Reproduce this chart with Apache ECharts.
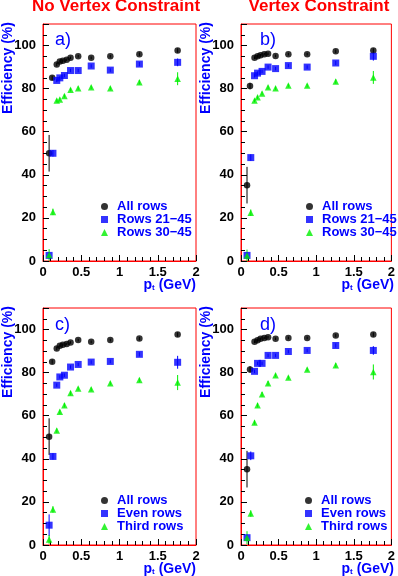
<!DOCTYPE html>
<html>
<head>
<meta charset="utf-8">
<script src="https://cdn.jsdelivr.net/npm/echarts@6/dist/echarts.min.js"></script>
<style>
  html, body { margin: 0; padding: 0; background: #fff; }
  #chart { width: 398px; height: 576px; }
</style>
</head>
<body>
<div id="chart"></div>
<script>
// pt bins (GeV)
const ptAll = [0.08, 0.12, 0.18, 0.22, 0.26, 0.31, 0.36, 0.46, 0.63, 0.88, 1.26, 1.76];
const ptRows = [0.08, 0.13, 0.18, 0.22, 0.28, 0.36, 0.46, 0.63, 0.88, 1.26, 1.76];

// a) no vertex constraint
const effAllA = [50, 85, 91.2, 92.6, 93, 93.4, 94.3, 95, 94.3, 95, 96, 97.7];
const errAllA = [8.5, 1, 0.8, 0.6, 0.6, 0.6, 0.6, 0.6, 0.6, 0.6, 0.8, 1];
const eff2145A = [2.6, 50, 83.8, 85, 86.1, 88.4, 88.4, 90.5, 88.6, 91.4, 92.2];
const err2145A = [1, 1.5, 0.8, 0.8, 0.8, 0.8, 0.8, 0.8, 0.8, 1, 1.8];
const eff3045A = [2.8, 22.8, 74.5, 75, 76.6, 79.5, 80.2, 80.6, 80.2, 83, 84.6];
const err3045A = [2.7, 1.5, 0.8, 0.8, 0.8, 0.8, 0.8, 0.8, 0.8, 1, 3];

// b) vertex constraint
const effAllB = [35.2, 81.2, 94.3, 95, 95.5, 96, 96.2, 95.2, 96, 96, 97.3, 97.7];
const errAllB = [8.5, 1.5, 0.6, 0.6, 0.6, 0.6, 0.6, 0.6, 0.6, 0.6, 0.8, 1];
const eff2145B = [2.6, 48, 86, 87.2, 88, 90, 89.3, 90.7, 90, 91.9, 95];
const err2145B = [1, 1.5, 0.8, 0.8, 0.8, 0.8, 0.8, 0.8, 0.8, 1, 2];
const eff3045B = [2.6, 22.4, 74.5, 76, 77.8, 80.6, 80.2, 81.4, 81.4, 83.3, 85.2];
const err3045B = [2.7, 1.5, 0.8, 0.8, 0.8, 0.8, 0.8, 0.8, 0.8, 1, 3];

// c) no vertex constraint, even / third rows
const effAllC = [50.3, 85.1, 91.2, 92.5, 93, 93.3, 94, 95.1, 94.3, 95.1, 95.8, 97.7];
const errAllC = [8.5, 1, 0.8, 0.6, 0.6, 0.6, 0.6, 0.6, 0.6, 0.6, 0.8, 1];
const effEvenC = [9.2, 41.1, 74.2, 78, 78.8, 82.6, 83.8, 84.9, 85.2, 88.5, 84.8];
const errEvenC = [5, 1.5, 0.8, 0.8, 0.8, 0.8, 0.8, 0.8, 0.8, 1, 3];
const effThirdC = [2.6, 16.5, 53.1, 61.8, 64.9, 70.5, 72.6, 72.3, 75.1, 76.6, 75.4];
const errThirdC = [2, 1.5, 1, 1, 1, 1, 0.8, 0.8, 0.8, 1, 3.5];

// d) vertex constraint, even / third rows
const effAllD = [35.2, 81.5, 94.3, 95, 95.7, 96.1, 96.4, 95.7, 96.1, 96.1, 97.2, 97.7];
const errAllD = [8.5, 1.5, 0.6, 0.6, 0.6, 0.6, 0.6, 0.6, 0.6, 0.6, 0.8, 1];
const effEvenD = [3.4, 41.4, 80.6, 84.3, 84.3, 88, 88, 89.8, 90.3, 92.6, 90.3];
const errEvenD = [1, 2, 0.8, 0.8, 0.8, 0.8, 0.8, 0.8, 0.8, 1, 2];
const effThirdD = [3.4, 14.6, 56.9, 64.9, 70, 75.1, 78.8, 77.7, 81.5, 83.4, 80.3];
const errThirdD = [3, 1.5, 1, 1, 1, 1, 0.8, 0.8, 0.8, 1, 3.5];

const yTicks = [0, 20, 40, 60, 80, 100];
const xTicks = [0, 0.5, 1, 1.5, 2];

const BLACK = '#000000', BLUE = '#0000ff', GREEN = '#00f000', RED = '#ff0000';
const FONT = 'Liberation Sans';

let chart = echarts.init(document.getElementById('chart'));

let grids = [
    { left: 43, top: 24, width: 153, height: 237 },
    { left: 241, top: 24, width: 153, height: 237 },
    { left: 43, top: 308, width: 153, height: 237 },
    { left: 241, top: 308, width: 153, height: 237 }
].map(g => Object.assign(g, { show: true, borderColor: RED, borderWidth: 1, backgroundColor: 'transparent' }));

function xAxisFor(i) {
    return {
        gridIndex: i, type: 'value', min: 0, max: 2, interval: 0.5,
        axisLine: { lineStyle: { color: RED, width: 1 } },
        axisTick: { inside: true, length: 6, lineStyle: { color: BLACK } },
        minorTick: { show: true, splitNumber: 5, length: 4, lineStyle: { color: BLACK } },
        splitLine: { show: false },
        axisLabel: {
            color: BLACK, fontFamily: FONT, fontWeight: 'bold', fontSize: 13, margin: 5,
            formatter: v => xTicks.indexOf(v) >= 0 ? String(v) : ''
        }
    };
}

function yAxisFor(i) {
    return {
        gridIndex: i, type: 'value', min: 0, max: 110, interval: 20,
        axisLine: { lineStyle: { color: RED, width: 1 } },
        axisTick: { inside: true, length: 6, lineStyle: { color: BLACK } },
        minorTick: { show: true, splitNumber: 4, length: 4, lineStyle: { color: BLACK } },
        splitLine: { show: false },
        axisLabel: {
            color: BLACK, fontFamily: FONT, fontWeight: 'bold', fontSize: 13, margin: 7,
            formatter: v => yTicks.indexOf(v) >= 0 ? String(v) : ''
        }
    };
}

function pts(xs, ys) {
    return xs.map((x, k) => [x, ys[k]]);
}

function scatter(name, i, xs, ys, symbol, color) {
    return {
        name: name, type: 'scatter', xAxisIndex: i, yAxisIndex: i,
        symbol: symbol, symbolSize: symbol === 'rect' ? 7 : 6.5,
        itemStyle: { color: color },
        data: pts(xs, ys), z: 3
    };
}

function errBars(i, xs, ys, es, color) {
    return {
        name: 'err', type: 'custom', xAxisIndex: i, yAxisIndex: i, z: 2,
        encode: { x: 0, y: [1, 2] },
        data: xs.map((x, k) => [x, ys[k] - es[k], ys[k] + es[k]]),
        renderItem: function (params, api) {
            let p1 = api.coord([api.value(0), api.value(1)]);
            let p2 = api.coord([api.value(0), api.value(2)]);
            return {
                type: 'line',
                shape: { x1: p1[0], y1: p1[1], x2: p2[0], y2: p2[1] },
                style: { stroke: color, lineWidth: 1 }
            };
        }
    };
}

let series = [
    errBars(0, ptAll, effAllA, errAllA, BLACK),
    errBars(0, ptRows, eff2145A, err2145A, BLUE),
    errBars(0, ptRows, eff3045A, err3045A, GREEN),
    scatter('All rows', 0, ptAll, effAllA, 'circle', BLACK),
    scatter('Rows 21\u221245', 0, ptRows, eff2145A, 'rect', BLUE),
    scatter('Rows 30\u221245', 0, ptRows, eff3045A, 'triangle', GREEN),

    errBars(1, ptAll, effAllB, errAllB, BLACK),
    errBars(1, ptRows, eff2145B, err2145B, BLUE),
    errBars(1, ptRows, eff3045B, err3045B, GREEN),
    scatter('All rows', 1, ptAll, effAllB, 'circle', BLACK),
    scatter('Rows 21\u221245', 1, ptRows, eff2145B, 'rect', BLUE),
    scatter('Rows 30\u221245', 1, ptRows, eff3045B, 'triangle', GREEN),

    errBars(2, ptAll, effAllC, errAllC, BLACK),
    errBars(2, ptRows, effEvenC, errEvenC, BLUE),
    errBars(2, ptRows, effThirdC, errThirdC, GREEN),
    scatter('All rows', 2, ptAll, effAllC, 'circle', BLACK),
    scatter('Even rows', 2, ptRows, effEvenC, 'rect', BLUE),
    scatter('Third rows', 2, ptRows, effThirdC, 'triangle', GREEN),

    errBars(3, ptAll, effAllD, errAllD, BLACK),
    errBars(3, ptRows, effEvenD, errEvenD, BLUE),
    errBars(3, ptRows, effThirdD, errThirdD, GREEN),
    scatter('All rows', 3, ptAll, effAllD, 'circle', BLACK),
    scatter('Even rows', 3, ptRows, effEvenD, 'rect', BLUE),
    scatter('Third rows', 3, ptRows, effThirdD, 'triangle', GREEN)
];

function legendAt(left, top, names) {
    return {
        left: left, top: top, orient: 'vertical', itemGap: 0,
        itemWidth: 7, itemHeight: 7, selectedMode: false,
        data: names,
        textStyle: { color: BLUE, fontFamily: FONT, fontWeight: 'bold', fontSize: 13, lineHeight: 11.5, padding: [0, 0, 0, 4] }
    };
}

const legendTop = ['All rows', 'Rows 21\u221245', 'Rows 30\u221245'];
const legendBottom = ['All rows', 'Even rows', 'Third rows'];

function txt(x, y, text, opts) {
    return {
        type: 'text', x: x, y: y, rotation: opts.rotation || 0,
        style: Object.assign({
            text: text, fontFamily: FONT, fontSize: 14, fontWeight: 'bold',
            fill: BLUE, align: 'center', verticalAlign: 'middle'
        }, opts.style || {})
    };
}

let graphics = [
    txt(116, 6, 'No Vertex Constraint', { style: { fill: RED, fontSize: 17 } }),
    txt(319, 6, 'Vertex Constraint', { style: { fill: RED, fontSize: 17 } }),
    txt(8, 68, 'Efficiency (%)', { rotation: Math.PI / 2 }),
    txt(206, 68, 'Efficiency (%)', { rotation: Math.PI / 2 }),
    txt(8, 352, 'Efficiency (%)', { rotation: Math.PI / 2 }),
    txt(206, 352, 'Efficiency (%)', { rotation: Math.PI / 2 }),
    txt(55, 40, 'a)', { style: { align: 'left', fontSize: 18, fontWeight: 'normal' } }),
    txt(260, 40, 'b)', { style: { align: 'left', fontSize: 18, fontWeight: 'normal' } }),
    txt(55, 325, 'c)', { style: { align: 'left', fontSize: 18, fontWeight: 'normal' } }),
    txt(260, 325, 'd)', { style: { align: 'left', fontSize: 18, fontWeight: 'normal' } })
];

[[196, 285], [394, 285], [196, 569], [394, 569]].forEach(function (p) {
    graphics.push({
        type: 'text', x: p[0], y: p[1],
        style: {
            text: 'p{sub|t} (GeV)', align: 'right', verticalAlign: 'middle',
            fontFamily: FONT, fontSize: 14, fontWeight: 'bold', fill: BLUE,
            rich: { sub: { fontFamily: FONT, fontSize: 8, fontWeight: 'bold', fill: BLUE, padding: [6, 0, 0, 0] } }
        }
    });
});

let option = {
    animation: false,
    backgroundColor: '#ffffff',
    grid: grids,
    xAxis: [0, 1, 2, 3].map(xAxisFor),
    yAxis: [0, 1, 2, 3].map(yAxisFor),
    legend: [
        legendAt(96, 195, legendTop),
        legendAt(301, 195, legendTop),
        legendAt(96, 489, legendBottom),
        legendAt(300, 489, legendBottom)
    ],
    series: series,
    graphic: graphics
};

chart.setOption(option);
</script>
</body>
</html>
